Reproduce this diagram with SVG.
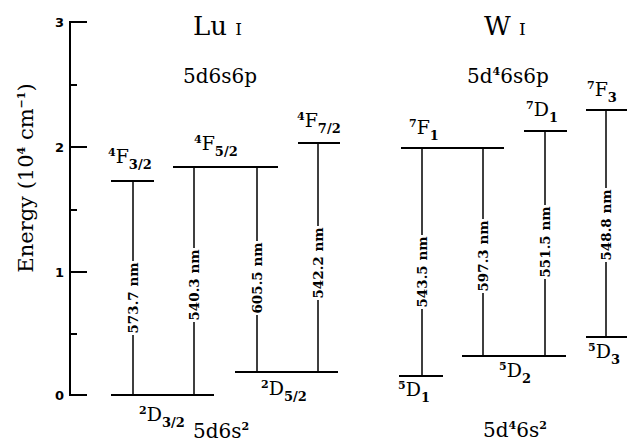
<svg xmlns="http://www.w3.org/2000/svg" width="627" height="444" viewBox="0 0 627 444">
<style>
.ax{stroke:#000;stroke-width:2;fill:none}
.lv{stroke:#000;stroke-width:2;fill:none}
.tr{stroke:#000;stroke-width:1.5;fill:none}
.t{font-family:"DejaVu Serif","Liberation Serif",serif;fill:#000}
.tick{font-family:"DejaVu Sans","Liberation Sans",sans-serif;font-weight:bold;font-size:13px}
.nm{font-family:"DejaVu Serif","Liberation Serif",serif;font-weight:bold;font-size:13.5px;text-anchor:middle;dominant-baseline:central}
.lab{font-size:19px}
.sup{font-size:11px;font-weight:bold}
.sub{font-size:13px;font-weight:bold}
.big{font-size:26px}
.cfg{font-size:20px}
</style>
<rect width="627" height="444" fill="#fff"/>
<g id="axis">
<path class="ax" d="M87,22H70V395H87M70,147H87M70,272H87M70,85H77M70,210H77M70,334H77"/>
<text class="t tick" x="55" y="27">3</text>
<text class="t tick" x="55" y="152">2</text>
<text class="t tick" x="55" y="277">1</text>
<text class="t tick" x="55" y="400">0</text>
<text class="t" font-size="21" transform="translate(33,178) rotate(-90)" text-anchor="middle">Energy (10<tspan class="sup" font-size="13" dy="-8">4</tspan><tspan dy="8"> cm</tspan><tspan class="sup" font-size="13" dy="-8">−1</tspan><tspan dy="8">)</tspan></text>
</g>
<g id="titles">
<text class="t big" x="193" y="35">Lu <tspan font-size="17">I</tspan></text>
<text class="t big" x="484" y="35">W <tspan font-size="17">I</tspan></text>
<text class="t cfg" x="183" y="83">5d6s6p</text>
<text class="t cfg" x="467" y="83">5d<tspan class="sup" font-size="12" dy="-8">4</tspan><tspan dy="8">6s6p</tspan></text>
<text class="t cfg" x="193" y="438">5d6s<tspan class="sup" font-size="12" dy="-8">2</tspan></text>
<text class="t cfg" x="483" y="437">5d<tspan class="sup" font-size="12" dy="-8">4</tspan><tspan dy="8">6s</tspan><tspan class="sup" font-size="12" dy="-8">2</tspan></text>
</g>
<g id="lu-4F32">
<path class="lv" d="M111,181H154"/>
<text class="t lab" x="108" y="163"><tspan class="sup" dy="-7">4</tspan><tspan dy="7">F</tspan><tspan class="sub" dy="6">3/2</tspan></text>
</g>
<g id="lu-4F52">
<path class="lv" d="M173,167H278"/>
<text class="t lab" x="194" y="150"><tspan class="sup" dy="-7">4</tspan><tspan dy="7">F</tspan><tspan class="sub" dy="6">5/2</tspan></text>
</g>
<g id="lu-4F72">
<path class="lv" d="M298,143H340"/>
<text class="t lab" x="297" y="127"><tspan class="sup" dy="-7">4</tspan><tspan dy="7">F</tspan><tspan class="sub" dy="6">7/2</tspan></text>
</g>
<g id="lu-2D32">
<path class="lv" d="M111,395H214"/>
<text class="t lab" x="139" y="421"><tspan class="sup" dy="-7">2</tspan><tspan dy="7">D</tspan><tspan class="sub" dy="6">3/2</tspan></text>
</g>
<g id="lu-2D52">
<path class="lv" d="M235,372H338"/>
<text class="t lab" x="261" y="395"><tspan class="sup" dy="-7">2</tspan><tspan dy="7">D</tspan><tspan class="sub" dy="6">5/2</tspan></text>
</g>
<g id="w-7F1">
<path class="lv" d="M401,148H504"/>
<text class="t lab" x="409" y="134"><tspan class="sup" dy="-7">7</tspan><tspan dy="7">F</tspan><tspan class="sub" dy="6">1</tspan></text>
</g>
<g id="w-7D1">
<path class="lv" d="M524,131H567"/>
<text class="t lab" x="526" y="116"><tspan class="sup" dy="-7">7</tspan><tspan dy="7">D</tspan><tspan class="sub" dy="6">1</tspan></text>
</g>
<g id="w-7F3">
<path class="lv" d="M586,110H627"/>
<text class="t lab" x="587" y="96"><tspan class="sup" dy="-7">7</tspan><tspan dy="7">F</tspan><tspan class="sub" dy="6">3</tspan></text>
</g>
<g id="w-5D1">
<path class="lv" d="M399,376H443"/>
<text class="t lab" x="398" y="396"><tspan class="sup" dy="-7">5</tspan><tspan dy="7">D</tspan><tspan class="sub" dy="6">1</tspan></text>
</g>
<g id="w-5D2">
<path class="lv" d="M462,356H566"/>
<text class="t lab" x="499" y="377"><tspan class="sup" dy="-7">5</tspan><tspan dy="7">D</tspan><tspan class="sub" dy="6">2</tspan></text>
</g>
<g id="w-5D3">
<path class="lv" d="M586,337H627"/>
<text class="t lab" x="588" y="358"><tspan class="sup" dy="-7">5</tspan><tspan dy="7">D</tspan><tspan class="sub" dy="6">3</tspan></text>
</g>
<g id="transitions">
<path class="tr" d="M133,181V261M133,335V395"/>
<text class="nm" transform="translate(133,298) rotate(-90)">573.7 nm</text>
<path class="tr" d="M194,167V248M194,322V395"/>
<text class="nm" transform="translate(194,285) rotate(-90)">540.3 nm</text>
<path class="tr" d="M257,167V241M257,315V372"/>
<text class="nm" transform="translate(257,278) rotate(-90)">605.5 nm</text>
<path class="tr" d="M318,143V226M318,300V372"/>
<text class="nm" transform="translate(318,263) rotate(-90)">542.2 nm</text>
<path class="tr" d="M422,148V235M422,309V376"/>
<text class="nm" transform="translate(422,272) rotate(-90)">543.5 nm</text>
<path class="tr" d="M483,148V219M483,293V356"/>
<text class="nm" transform="translate(483,256) rotate(-90)">597.3 nm</text>
<path class="tr" d="M545,131V205M545,279V356"/>
<text class="nm" transform="translate(545,242) rotate(-90)">551.5 nm</text>
<path class="tr" d="M606,110V188M606,262V337"/>
<text class="nm" transform="translate(606,225) rotate(-90)">548.8 nm</text>
</g>
</svg>
